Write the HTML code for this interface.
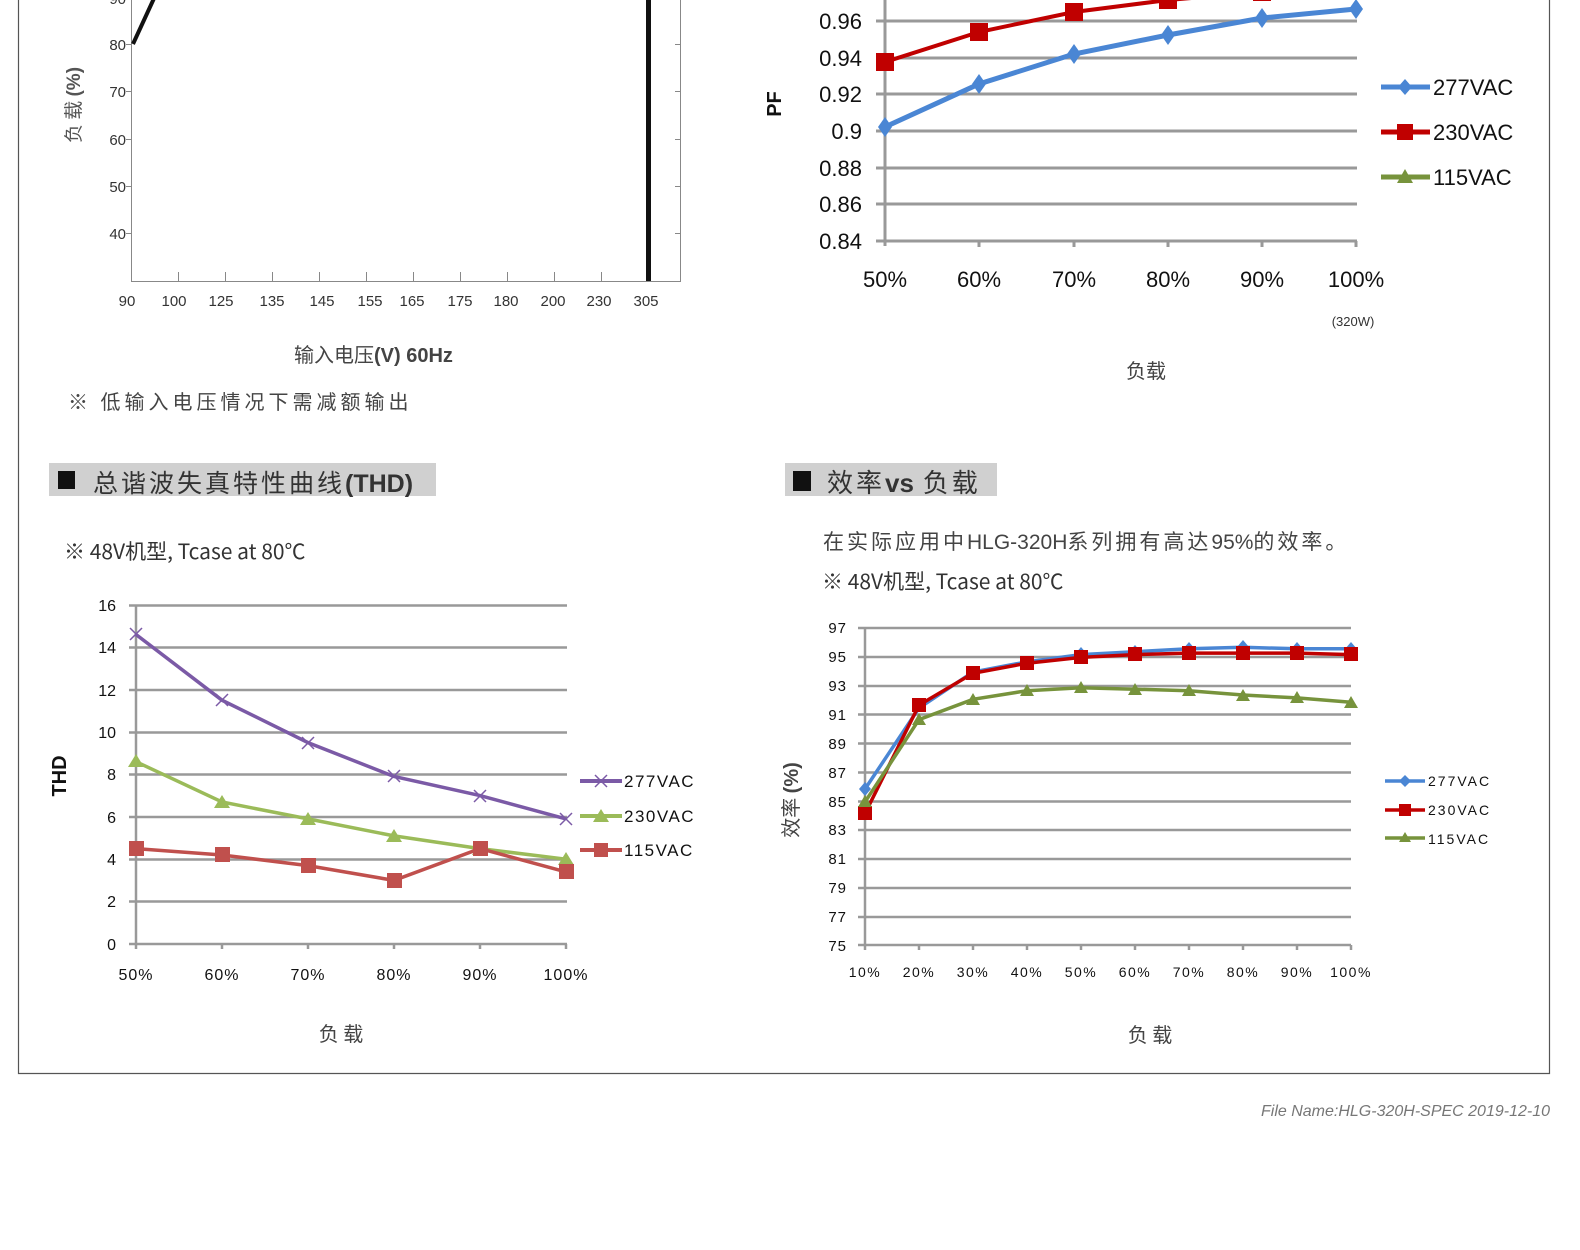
<!DOCTYPE html>
<html><head><meta charset="utf-8"><style>
body{margin:0;background:#fff;}
svg{display:block;}
text{font-family:"Liberation Sans","Noto Sans CJK SC",sans-serif;}
.cjk{font-family:"Noto Sans CJK SC","Liberation Sans",sans-serif;}
</style></head><body>
<svg width="1580" height="1250" viewBox="0 0 1580 1250" xmlns="http://www.w3.org/2000/svg">
<!-- page frame -->
<path d="M18.5 0 V1073.5 H1549.5 V0" fill="none" stroke="#555" stroke-width="1.2"/>

<!-- ===== Top-left derating chart ===== -->
<g stroke="#888" stroke-width="1" fill="none">
<path d="M131.5 0 V281.5 H680.5 V0"/>
<path d="M126 44.5h5M126 91.5h5M126 139.5h5M126 186.5h5M126 233.5h5"/>
<path d="M675 44.5h5M675 91.5h5M675 139.5h5M675 186.5h5M675 233.5h5"/>
<path d="M178.5 272v9M225.5 272v9M272.5 272v9M319.5 272v9M366.5 272v9M413.5 272v9M460.5 272v9M507.5 272v9M554.5 272v9M601.5 272v9"/>
</g>
<path d="M133 44 L156 -6" stroke="#111" stroke-width="4" fill="none"/>
<rect x="646" y="0" width="5" height="281" fill="#111"/>
<g font-size="15" fill="#333" text-anchor="end">
<text x="126" y="50">80</text><text x="126" y="97">70</text><text x="126" y="145">60</text><text x="126" y="192">50</text><text x="126" y="239">40</text>
<text x="126" y="4">90</text>
</g>
<g font-size="15" fill="#333" text-anchor="middle">
<text x="127" y="306">90</text><text x="174" y="306">100</text><text x="221" y="306">125</text><text x="272" y="306">135</text><text x="322" y="306">145</text><text x="370" y="306">155</text><text x="412" y="306">165</text><text x="460" y="306">175</text><text x="506" y="306">180</text><text x="553" y="306">200</text><text x="599" y="306">230</text><text x="646" y="306">305</text>
</g>
<text class="cjk" transform="translate(80,105) rotate(-90)" font-size="19" fill="#555" text-anchor="middle">负 载 <tspan font-weight="bold" font-family="Liberation Sans">(%)</tspan></text>
<text x="294" y="362" font-size="20" fill="#444" class="cjk">输入电压<tspan font-weight="bold" font-family="Liberation Sans">(V) 60Hz</tspan></text>
<text x="68" y="409" font-size="20" fill="#444" class="cjk" letter-spacing="4">※ 低输入电压情况下需减额输出</text>

<!-- ===== Top-right PF chart ===== -->
<g stroke="#999" stroke-width="3">
<path d="M876 21h481M876 58h481M876 94h481M876 131h481M876 168h481M876 204h481M876 241h481"/>
<path d="M885 0v246M979 241v6M1074 241v6M1168 241v6M1262 241v6M1356 241v6"/>
</g>
<g font-size="22" fill="#111" text-anchor="end">
<text x="862" y="29">0.96</text><text x="862" y="66">0.94</text><text x="862" y="102">0.92</text><text x="862" y="139">0.9</text><text x="862" y="176">0.88</text><text x="862" y="212">0.86</text><text x="862" y="249">0.84</text>
</g>
<text transform="translate(781,104) rotate(-90)" font-size="20" font-weight="bold" fill="#111" text-anchor="middle">PF</text>
<polyline points="885,62 979,32 1074,12 1168,0 1262,-8 1356,-14" fill="none" stroke="#c00000" stroke-width="4"/>
<g fill="#c00000"><rect x="876" y="53" width="18" height="18"/><rect x="970" y="23" width="18" height="18"/><rect x="1065" y="3" width="18" height="18"/><rect x="1159" y="-9" width="18" height="18"/><rect x="1253" y="-17" width="18" height="18"/></g>
<polyline points="885,127 979,84 1074,54 1168,35 1262,18 1356,9" fill="none" stroke="#4a86d4" stroke-width="5"/>
<g fill="#4a86d4">
<path d="M885 117l7 10-7 10-7-10z"/><path d="M979 74l7 10-7 10-7-10z"/><path d="M1074 44l7 10-7 10-7-10z"/><path d="M1168 25l7 10-7 10-7-10z"/><path d="M1262 8l7 10-7 10-7-10z"/><path d="M1356 -1l7 10-7 10-7-10z"/>
</g>
<g font-size="22" fill="#111" text-anchor="middle">
<text x="885" y="287">50%</text><text x="979" y="287">60%</text><text x="1074" y="287">70%</text><text x="1168" y="287">80%</text><text x="1262" y="287">90%</text><text x="1356" y="287">100%</text>
</g>
<text x="1353" y="326" font-size="13" fill="#333" text-anchor="middle">(320W)</text>
<text x="1146" y="378" font-size="20" fill="#444" class="cjk" text-anchor="middle">负载</text>
<g stroke-width="5">
<path d="M1381 87h49" stroke="#4a86d4"/><path d="M1405 79l7 8-7 8-7-8z" fill="#4a86d4" stroke="none"/>
<path d="M1381 132h49" stroke="#c00000"/><rect x="1397" y="124" width="16" height="16" fill="#c00000" stroke="none"/>
<path d="M1381 177h49" stroke="#77933c"/><path d="M1405 169l8 14h-16z" fill="#77933c" stroke="none"/>
</g>
<g font-size="22" fill="#111"><text x="1433" y="95">277VAC</text><text x="1433" y="140">230VAC</text><text x="1433" y="185">115VAC</text></g>

<!-- ===== THD ===== -->
<rect x="49" y="463" width="387" height="33" fill="#d0d0d0"/>
<rect x="58" y="471" width="17" height="18" fill="#111"/>
<text x="93" y="492" font-size="25" fill="#333" class="cjk" letter-spacing="3">总谐波失真特性曲线<tspan font-weight="bold" font-family="Liberation Sans" letter-spacing="0">(THD)</tspan></text>
<text x="64" y="559" font-size="21" fill="#333" class="cjk">※ 48V机型, Tcase at 80℃</text>
<g stroke="#999" stroke-width="2.5">
<path d="M129 605.5h438M129 647.5h438M129 690h438M129 732.5h438M129 774.5h438M129 817h438M129 859.5h438M129 901.5h438M129 944h438"/>
<path d="M136 605v344M222 944v5M308 944v5M394 944v5M480 944v5M566 944v5"/>
</g>
<g font-size="16" fill="#111" text-anchor="end">
<text x="116" y="611">16</text><text x="116" y="653">14</text><text x="116" y="696">12</text><text x="116" y="738">10</text><text x="116" y="780">8</text><text x="116" y="823">6</text><text x="116" y="865">4</text><text x="116" y="907">2</text><text x="116" y="950">0</text>
</g>
<text transform="translate(66,776) rotate(-90)" font-size="20" font-weight="bold" fill="#111" text-anchor="middle">THD</text>
<polyline points="136,634.5 222,700.2 308,742.6 394,776.5 480,795.6 566,818.9" fill="none" stroke="#7b5aa6" stroke-width="3.5"/>
<g stroke="#7b5aa6" stroke-width="1.5">
<path d="M130 628l12 12M142 628l-12 12M216 694l12 12M228 694l-12 12M302 737l12 12M314 737l-12 12M388 770l12 12M400 770l-12 12M474 790l12 12M486 790l-12 12M560 813l12 12M572 813l-12 12"/>
</g>
<polyline points="136,761.7 222,802 308,818.9 394,835.9 480,848.6 566,859.2" fill="none" stroke="#9bbb59" stroke-width="3.5"/>
<g fill="#9bbb59">
<path d="M136 754l8 13h-16z"/><path d="M222 795l8 13h-16z"/><path d="M308 812l8 13h-16z"/><path d="M394 829l8 13h-16z"/><path d="M480 842l8 13h-16z"/><path d="M566 852l8 13h-16z"/>
</g>
<polyline points="136,848.6 222,855 308,865.6 394,880.4 480,848.6 566,871.9" fill="none" stroke="#c0504d" stroke-width="3.5"/>
<g fill="#c0504d">
<rect x="129" y="841" width="15" height="15"/><rect x="215" y="847" width="15" height="15"/><rect x="301" y="858" width="15" height="15"/><rect x="387" y="873" width="15" height="15"/><rect x="473" y="841" width="15" height="15"/><rect x="559" y="864" width="15" height="15"/>
</g>
<g font-size="16" fill="#111" text-anchor="middle" letter-spacing="1">
<text x="136" y="980">50%</text><text x="222" y="980">60%</text><text x="308" y="980">70%</text><text x="394" y="980">80%</text><text x="480" y="980">90%</text><text x="566" y="980">100%</text>
</g>
<g stroke-width="4">
<path d="M580 781h42" stroke="#7b5aa6"/><path d="M595 775l12 12M607 775l-12 12" stroke="#7b5aa6" stroke-width="1.5"/>
<path d="M580 816h42" stroke="#9bbb59"/><path d="M601 809l8 13h-16z" fill="#9bbb59" stroke="none"/>
<path d="M580 850h42" stroke="#c0504d"/><rect x="594" y="843" width="14" height="14" fill="#c0504d" stroke="none"/>
</g>
<g font-size="17" fill="#111" letter-spacing="1.5"><text x="624" y="787">277VAC</text><text x="624" y="822">230VAC</text><text x="624" y="856">115VAC</text></g>
<text x="341" y="1041" font-size="20" fill="#444" class="cjk" text-anchor="middle">负 载</text>

<!-- ===== Efficiency ===== -->
<rect x="785" y="463" width="212" height="33" fill="#d0d0d0"/>
<rect x="793" y="471" width="18" height="20" fill="#111"/>
<text x="827" y="492" font-size="26" fill="#333" class="cjk" letter-spacing="3">效率<tspan font-weight="bold" font-family="Liberation Sans" letter-spacing="0">vs</tspan> 负载</text>
<text x="823" y="549" font-size="21" fill="#444" class="cjk" letter-spacing="3">在实际应用中<tspan font-family="Liberation Sans" letter-spacing="0">HLG-320H</tspan>系列拥有高达<tspan font-family="Liberation Sans" letter-spacing="0">95%</tspan>的效率。</text>
<text x="822" y="589" font-size="21" fill="#333" class="cjk">※ 48V机型, Tcase at 80℃</text>
<g stroke="#999" stroke-width="2.5">
<path d="M858 628h493M858 657h493M858 686h493M858 714.5h493M858 743.5h493M858 772.5h493M858 801.5h493M858 830h493M858 859h493M858 888h493M858 917h493M858 945h493"/>
<path d="M865 628v322M919 945v5M973 945v5M1027 945v5M1081 945v5M1135 945v5M1189 945v5M1243 945v5M1297 945v5M1351 945v5"/>
</g>
<g font-size="15" fill="#111" text-anchor="end" letter-spacing="1">
<text x="847" y="633">97</text><text x="847" y="662">95</text><text x="847" y="691">93</text><text x="847" y="720">91</text><text x="847" y="749">89</text><text x="847" y="778">87</text><text x="847" y="807">85</text><text x="847" y="835">83</text><text x="847" y="864">81</text><text x="847" y="893">79</text><text x="847" y="922">77</text><text x="847" y="951">75</text>
</g>
<text transform="translate(798,800) rotate(-90)" font-size="20" fill="#444" class="cjk" text-anchor="middle">效率 <tspan font-weight="bold" font-family="Liberation Sans">(%)</tspan></text>
<polyline points="865,789 919,708 973,672 1027,661.8 1081,654.6 1135,651.7 1189,648.8 1243,647.3 1297,648.8 1351,648.8" fill="none" stroke="#4a86d4" stroke-width="3.5"/>
<g fill="#4a86d4">
<path d="M865 782l6 7-6 7-6-7z"/><path d="M1081 647l6 7-6 7-6-7z"/><path d="M1135 645l6 7-6 7-6-7z"/><path d="M1189 642l6 7-6 7-6-7z"/><path d="M1243 640l6 7-6 7-6-7z"/><path d="M1297 642l6 7-6 7-6-7z"/><path d="M1351 642l6 7-6 7-6-7z"/>
</g>
<polyline points="865,813.5 919,705.1 973,673.3 1027,663.2 1081,657.4 1135,654.6 1189,653.1 1243,653.1 1297,653.1 1351,654.6" fill="none" stroke="#c00000" stroke-width="3.5"/>
<g fill="#c00000">
<rect x="858" y="806" width="14" height="14"/><rect x="912" y="698" width="14" height="14"/><rect x="966" y="666" width="14" height="14"/><rect x="1020" y="656" width="14" height="14"/><rect x="1074" y="650" width="14" height="14"/><rect x="1128" y="647" width="14" height="14"/><rect x="1182" y="646" width="14" height="14"/><rect x="1236" y="646" width="14" height="14"/><rect x="1290" y="646" width="14" height="14"/><rect x="1344" y="647" width="14" height="14"/>
</g>
<polyline points="865,802 919,719.6 973,699.3 1027,690.7 1081,687.8 1135,689.2 1189,690.7 1243,695 1297,697.9 1351,702.2" fill="none" stroke="#77933c" stroke-width="3.5"/>
<g fill="#77933c">
<path d="M865 795l7 12h-14z"/><path d="M919 713l7 12h-14z"/><path d="M973 693l7 12h-14z"/><path d="M1027 684l7 12h-14z"/><path d="M1081 681l7 12h-14z"/><path d="M1135 683l7 12h-14z"/><path d="M1189 684l7 12h-14z"/><path d="M1243 689l7 12h-14z"/><path d="M1297 691l7 12h-14z"/><path d="M1351 696l7 12h-14z"/>
</g>
<g font-size="14" fill="#111" text-anchor="middle" letter-spacing="1.5">
<text x="865" y="977">10%</text><text x="919" y="977">20%</text><text x="973" y="977">30%</text><text x="1027" y="977">40%</text><text x="1081" y="977">50%</text><text x="1135" y="977">60%</text><text x="1189" y="977">70%</text><text x="1243" y="977">80%</text><text x="1297" y="977">90%</text><text x="1351" y="977">100%</text>
</g>
<g stroke-width="3.5">
<path d="M1385 781h40" stroke="#4a86d4"/><path d="M1405 775l6 6-6 6-6-6z" fill="#4a86d4" stroke="none"/>
<path d="M1385 810h40" stroke="#c00000"/><rect x="1399" y="804" width="12" height="12" fill="#c00000" stroke="none"/>
<path d="M1385 838h40" stroke="#77933c"/><path d="M1405 832l6 10h-12z" fill="#77933c" stroke="none"/>
</g>
<g font-size="14" fill="#111" letter-spacing="2"><text x="1428" y="786">277VAC</text><text x="1428" y="815">230VAC</text><text x="1428" y="844">115VAC</text></g>
<text x="1150" y="1042" font-size="20" fill="#444" class="cjk" text-anchor="middle">负 载</text>

<text x="1550" y="1116" font-size="16" fill="#777" font-style="italic" text-anchor="end">File Name:HLG-320H-SPEC    2019-12-10</text>
</svg>
</body></html>
